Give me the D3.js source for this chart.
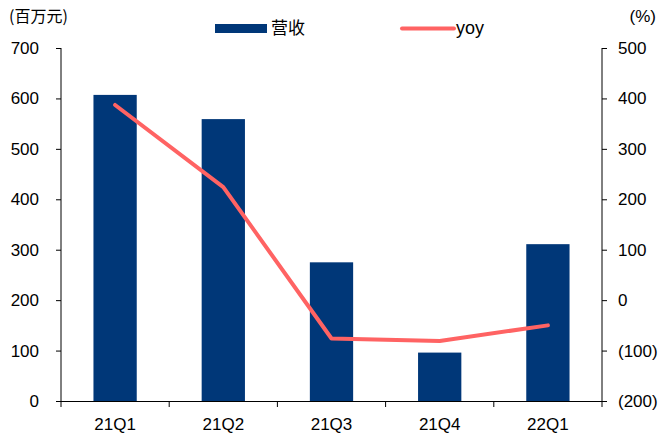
<!DOCTYPE html>
<html>
<head>
<meta charset="utf-8">
<script src="https://cdn.jsdelivr.net/npm/d3@7/dist/d3.min.js"></script>
<style>
  html, body { margin: 0; padding: 0; background: #fff; }
  svg { display: block; }
  text { font-family: "Liberation Sans", Arial, sans-serif; fill: #000; }
  .cjk { font-family: "Noto Sans CJK SC", "Noto Sans", sans-serif; }
</style>
</head>
<body>
<script>
// Quarterly revenue (million yuan) and year-over-year growth (%)
const quarters = ["21Q1", "21Q2", "21Q3", "21Q4", "22Q1"];
const revenue = [607, 559, 275, 96, 311];
const yoy = [387, 224, -76, -81, -50];
const leftTicks = [0, 100, 200, 300, 400, 500, 600, 700];
const rightTicks = [-200, -100, 0, 100, 200, 300, 400, 500];

const W = 662, H = 434;
const plot = { left: 61, right: 602, top: 48, bottom: 401 };
const barColor = "#003778";
const lineColor = "#FF6363";
const fs = 17;

const svg = d3.select("body").append("svg")
  .attr("width", W).attr("height", H);

const x = d3.scaleBand().domain(quarters)
  .range([plot.left, plot.right]).paddingInner(0.6).paddingOuter(0.3);
const yL = d3.scaleLinear().domain([0, 700]).range([plot.bottom, plot.top]);
const yR = d3.scaleLinear().domain([-200, 500]).range([plot.bottom, plot.top]);

// bars
svg.append("g").selectAll("rect").data(revenue).join("rect")
  .attr("x", (d, i) => x(quarters[i]))
  .attr("width", x.bandwidth())
  .attr("y", d => yL(d))
  .attr("height", d => yL(0) - yL(d))
  .attr("fill", barColor);

// yoy line
const line = d3.line()
  .x((d, i) => x(quarters[i]) + x.bandwidth() / 2)
  .y(d => yR(d));
svg.append("path").datum(yoy)
  .attr("d", line)
  .attr("fill", "none")
  .attr("stroke", lineColor)
  .attr("stroke-width", 4)
  .attr("stroke-linejoin", "round")
  .attr("stroke-linecap", "round");

// axes
const fmtR = d => d < 0 ? "(" + Math.abs(d) + ")" : String(d);

const axL = svg.append("g").attr("transform", `translate(${plot.left},0)`)
  .call(d3.axisLeft(yL).tickValues(leftTicks).tickSize(5).tickPadding(17));
const axR = svg.append("g").attr("transform", `translate(${plot.right},0)`)
  .call(d3.axisRight(yR).tickValues(rightTicks).tickFormat(fmtR).tickSize(5).tickPadding(11));

// x axis with ticks at band boundaries
const xAxisG = svg.append("g").attr("transform", `translate(0,${plot.bottom})`);
xAxisG.append("line")
  .attr("x1", plot.left - 5).attr("x2", plot.right + 4)
  .attr("y1", 0.5).attr("y2", 0.5)
  .attr("stroke", "#000").attr("stroke-width", 1);
const step = (plot.right - plot.left) / quarters.length;
const bounds = d3.range(quarters.length + 1).map(i => plot.left + i * step);
xAxisG.selectAll(".xt").data(bounds).join("line")
  .attr("x1", d => d).attr("x2", d => d)
  .attr("y1", 0).attr("y2", 6)
  .attr("stroke", "#000");
xAxisG.selectAll(".xl").data(quarters).join("text")
  .attr("x", d => x(d) + x.bandwidth() / 2)
  .attr("y", 29)
  .attr("text-anchor", "middle")
  .attr("font-size", fs)
  .text(d => d);

[axL, axR].forEach(g => {
  g.select(".domain").attr("stroke", "#000");
  g.selectAll(".tick line").attr("stroke", "#000");
  g.selectAll(".tick text").attr("font-size", fs)
    .style("font-family", '"Liberation Sans", Arial, sans-serif').attr("fill", "#000");
});
axL.select(".domain").attr("d", `M0,${plot.top}V${plot.bottom}`);
axR.select(".domain").attr("d", `M0,${plot.top}V${plot.bottom}`);

// unit labels
svg.append("text").attr("class", "cjk").attr("x", 9).attr("y", 22)
  .attr("font-size", 16).text("(百万元)");
svg.append("text").attr("x", 656).attr("y", 22).attr("text-anchor", "end")
  .attr("font-size", fs).text("(%)");

// legend
svg.append("rect").attr("x", 215).attr("y", 24).attr("width", 52).attr("height", 9)
  .attr("fill", barColor);
svg.append("text").attr("class", "cjk").attr("x", 271).attr("y", 34)
  .attr("font-size", 17).text("营收");
svg.append("line").attr("x1", 402).attr("x2", 454).attr("y1", 28.5).attr("y2", 28.5)
  .attr("stroke", lineColor).attr("stroke-width", 4).attr("stroke-linecap", "round");
svg.append("text").attr("x", 456).attr("y", 34)
  .attr("font-size", 18).text("yoy");
</script>
</body>
</html>
